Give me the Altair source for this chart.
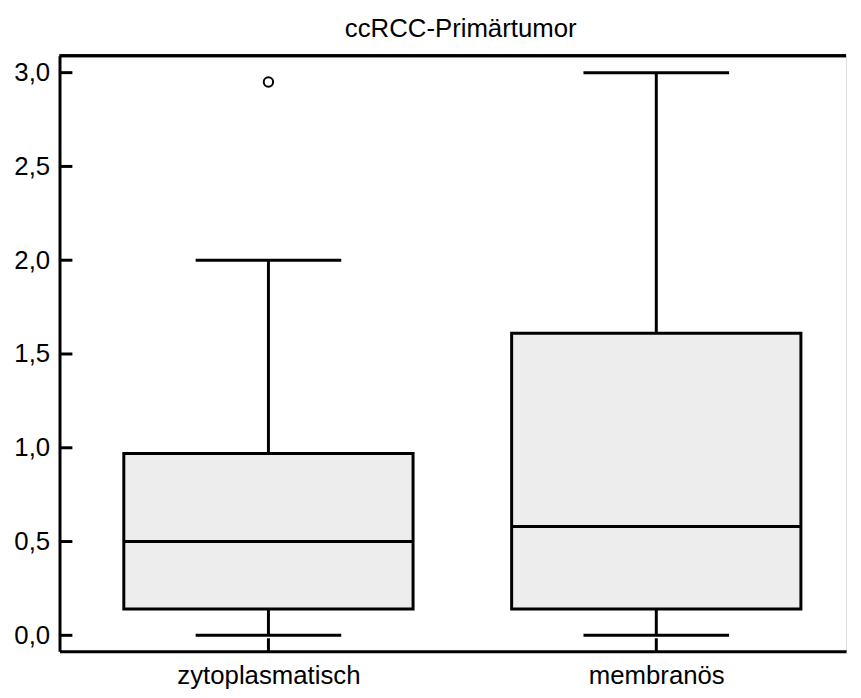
import altair as alt
import pandas as pd

# ---- data ----
categories = ["zytoplasmatisch", "membranös"]
lower_whisker = [0.0, 0.0]
q1 = [0.14, 0.14]
median = [0.50, 0.58]
q3 = [0.97, 1.61]
upper_whisker = [2.0, 3.0]

outlier_cats = ["zytoplasmatisch"]
outlier_vals = [2.95]

y_ticks = [0.0, 0.5, 1.0, 1.5, 2.0, 2.5, 3.0]

box_df = pd.DataFrame({
    "cat": categories, "lo": lower_whisker, "q1": q1,
    "med": median, "q3": q3, "hi": upper_whisker,
})
out_df = pd.DataFrame({"cat": outlier_cats, "v": outlier_vals})
tick_df = pd.DataFrame({"v": y_ticks})

W, H = 794, 601
FONT = "Liberation Sans"
FS = 26

yscale = alt.Scale(domain=[-0.0845, 3.0898], nice=False, zero=False)
xscale = alt.Scale(type="point", domain=categories, padding=0.514, align=0.524)

yaxis = alt.Axis(
    title=None, values=y_ticks, grid=False, ticks=False, tickSize=0,
    domain=True, domainColor="black", domainWidth=3,
    labelFont=FONT, labelFontSize=FS, labelColor="black", labelPadding=10,
    labelExpr="replace(format(datum.value, '.1f'), '.', ',')",
)
xaxis = alt.Axis(
    title=None, grid=False, ticks=False, tickSize=0, labelAngle=0,
    domain=True, domainColor="black", domainWidth=3, labelLimit=0,
    labelFont=FONT, labelFontSize=FS, labelColor="black", labelPadding=12,
)

X = alt.X("cat:N", scale=xscale, axis=xaxis)

base = alt.Chart(box_df)

whisker = base.mark_rule(color="black", strokeWidth=3).encode(
    x=X, y=alt.Y("lo:Q", scale=yscale, axis=yaxis), y2="hi:Q"
)
box = base.mark_bar(width=292, fill="#ededed", stroke="black", strokeWidth=3).encode(
    x=X, y=alt.Y("q1:Q", scale=yscale, axis=yaxis), y2="q3:Q"
)
med = base.mark_tick(size=290, thickness=3, color="black", opacity=1).encode(
    x=X, y=alt.Y("med:Q", scale=yscale, axis=yaxis)
)
cap_lo = base.mark_tick(size=147, thickness=3, color="black", opacity=1).encode(
    x=X, y=alt.Y("lo:Q", scale=yscale, axis=yaxis)
)
cap_hi = base.mark_tick(size=147, thickness=3, color="black", opacity=1).encode(
    x=X, y=alt.Y("hi:Q", scale=yscale, axis=yaxis)
)
outl = alt.Chart(out_df).mark_point(
    shape="circle", filled=False, size=90, stroke="black", strokeWidth=2, opacity=1
).encode(
    x=X, y=alt.Y("v:Q", scale=yscale, axis=yaxis)
)
ytick_marks = alt.Chart(tick_df).mark_rule(color="black", strokeWidth=3).encode(
    x=alt.value(0), x2=alt.value(13), y=alt.Y("v:Q", scale=yscale, axis=yaxis)
)
xtick_marks = base.mark_rule(color="black", strokeWidth=3).encode(
    x=X, y=alt.value(H), y2=alt.value(H - 13)
)
top_line = base.mark_rule(color="black", strokeWidth=3).encode(
    x=alt.value(0), x2=alt.value(W), y=alt.value(0)
)

chart = alt.layer(
    whisker, box, med, cap_lo, cap_hi, outl, ytick_marks, xtick_marks, top_line
).properties(
    width=W, height=H,
    title=alt.TitleParams(
        "ccRCC-Primärtumor", font=FONT, fontSize=FS, fontWeight="normal",
        color="black", offset=12, dx=8,
    ),
).configure_view(stroke=None).configure(background="white")

chart.save("out.html", embed_options={"renderer": "svg", "actions": False})
